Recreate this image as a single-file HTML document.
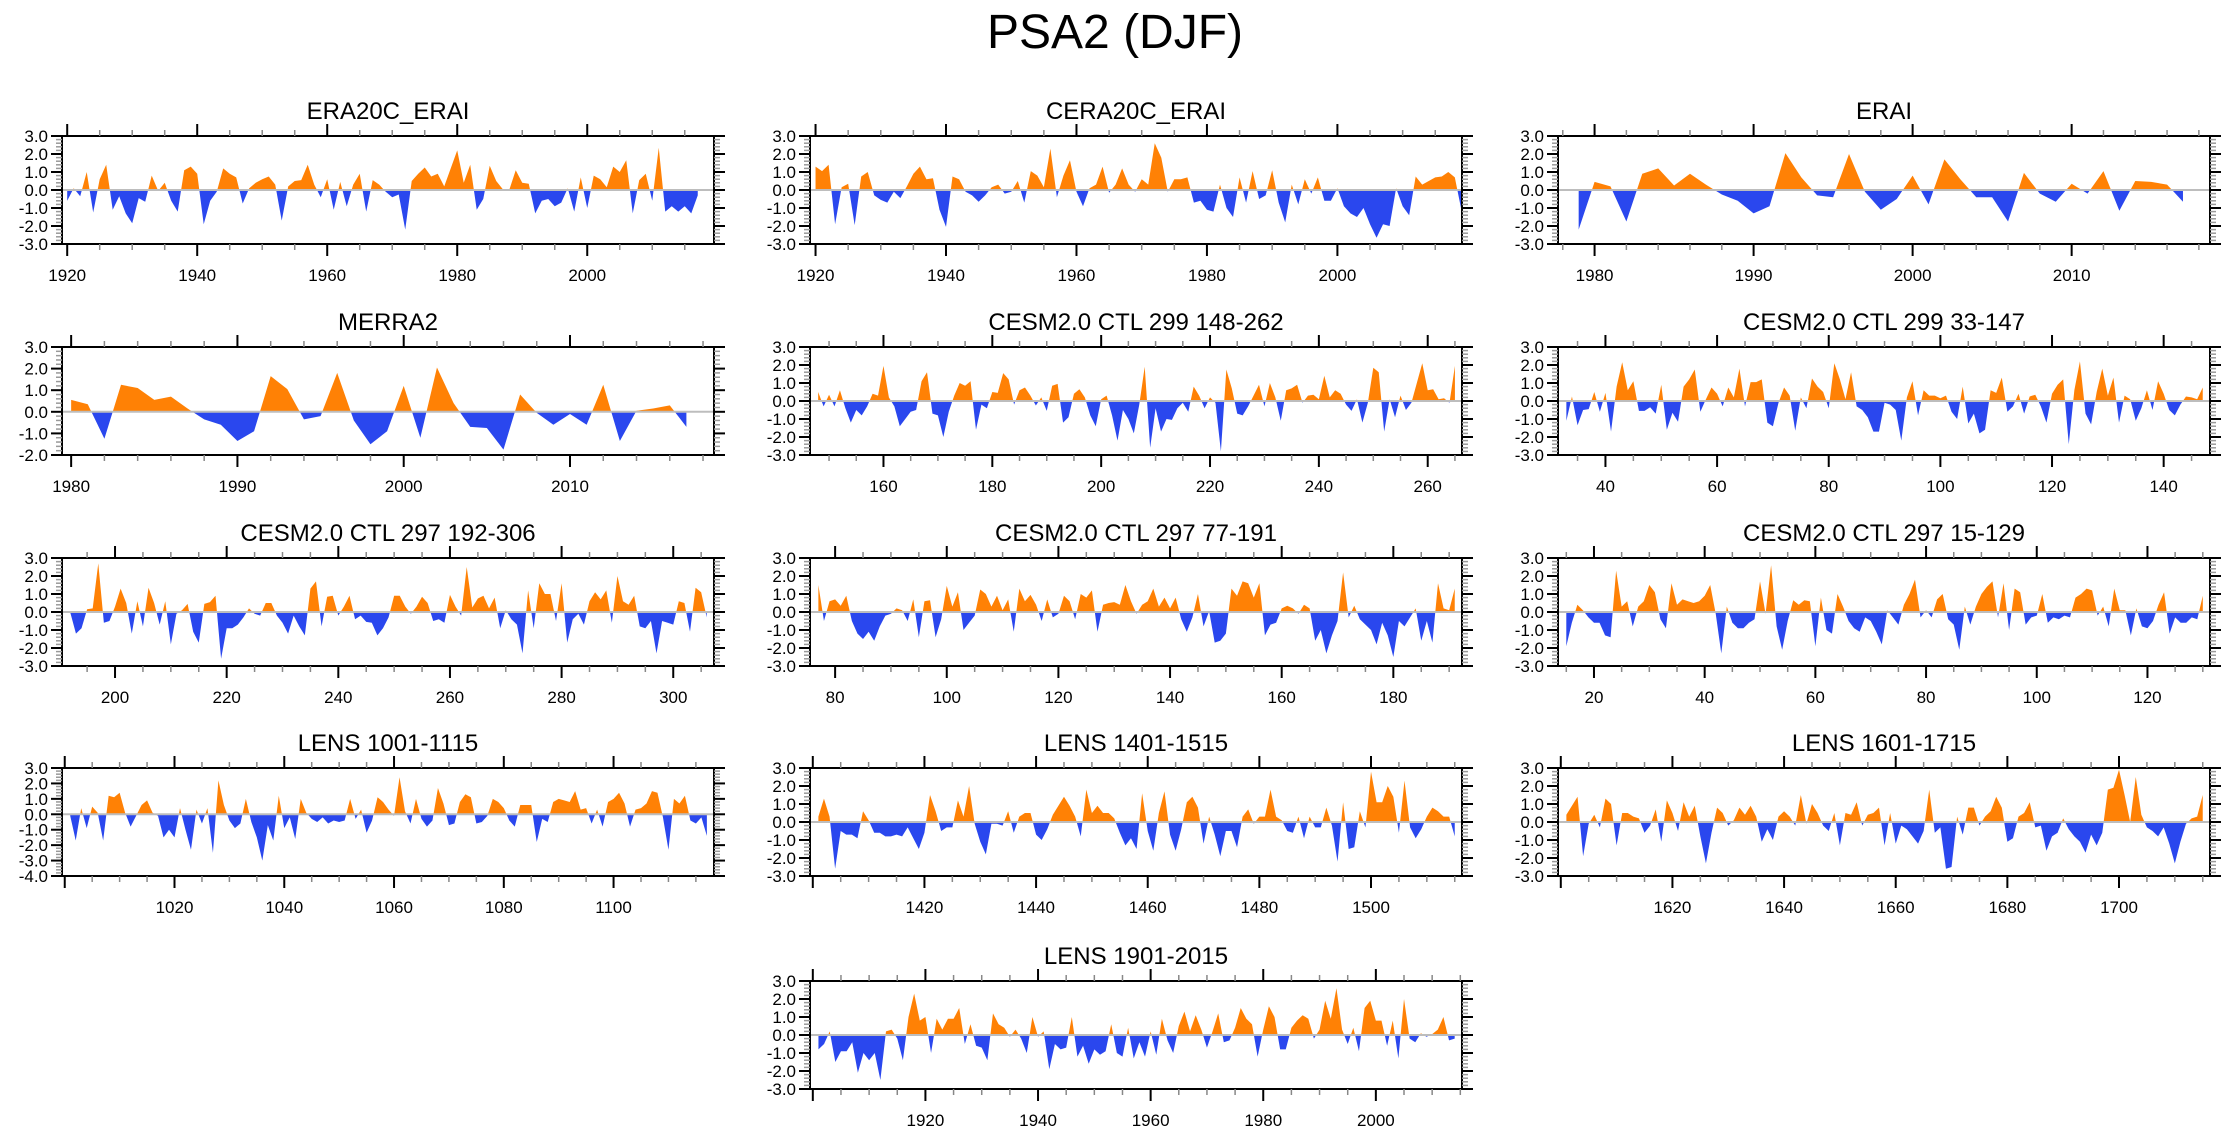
<!DOCTYPE html>
<html><head><meta charset="utf-8">
<style>
html,body{margin:0;padding:0;background:#fff;}
svg{display:block;font-family:"Liberation Sans",Arial,sans-serif;}
</style></head>
<body>
<svg id="chart" width="2230" height="1133" viewBox="0 0 2230 1133" xmlns="http://www.w3.org/2000/svg">
<text x="1115" y="48" font-size="48" text-anchor="middle">PSA2 (DJF)</text>
</svg>
<script>
const panelTitles = ["ERA20C_ERAI","CERA20C_ERAI","ERAI","MERRA2","CESM2.0 CTL 299 148-262","CESM2.0 CTL 299 33-147","CESM2.0 CTL 297 192-306","CESM2.0 CTL 297 77-191","CESM2.0 CTL 297 15-129","LENS 1001-1115","LENS 1401-1515","LENS 1601-1715","LENS 1901-2015"];
const era20c = [-0.6,0.1,-0.35,1.0,-1.25,0.6,1.4,-1.1,-0.35,-1.3,-1.85,-0.45,-0.65,0.8,-0.05,0.4,-0.6,-1.2,1.1,1.3,0.9,-1.9,-0.6,-0.1,1.2,0.9,0.7,-0.75,0.1,0.4,0.6,0.75,0.3,-1.7,0.2,0.5,0.55,1.4,0.3,-0.4,0.6,-1.1,0.45,-0.9,0.3,0.9,-1.2,0.55,0.3,-0.1,-0.4,-0.25,-2.2,0.5,0.9,1.25,0.75,0.9,0.2,1.2,2.2,0.4,1.4,-1.1,-0.5,1.35,0.5,0.05,0.0,1.1,0.4,0.35,-1.3,-0.6,-0.5,-0.9,-0.7,0.1,-1.2,0.7,-1.0,0.8,0.6,0.15,1.3,1.0,1.65,-1.3,0.55,0.9,-0.6,2.35,-1.2,-0.9,-1.2,-0.9,-1.3,-0.3];
const cera20c = [1.3,1.05,1.4,-1.9,0.15,0.35,-1.95,0.75,1.0,-0.3,-0.55,-0.7,-0.1,-0.45,0.2,0.9,1.3,0.6,0.65,-1.1,-2.05,0.75,0.6,-0.1,-0.3,-0.65,-0.3,0.15,0.3,-0.2,-0.1,0.5,-0.7,1.05,0.8,0.15,2.3,-0.4,0.8,1.65,-0.1,-0.9,0.1,0.3,1.3,-0.15,0.3,1.2,0.3,-0.1,0.6,0.3,2.6,1.8,-0.1,0.6,0.6,0.7,-0.7,-0.6,-1.1,-1.2,0.3,-1.0,-1.5,0.7,-0.7,1.05,-0.5,-0.3,1.1,-0.7,-1.8,0.3,-0.8,0.6,-0.2,0.7,-0.6,-0.6,0.1,-0.9,-1.3,-1.5,-1.0,-1.9,-2.65,-1.9,-2.0,0.1,-0.9,-1.4,0.75,0.3,0.5,0.7,0.75,1.0,0.7,-1.1];
const erai = [-2.2,0.45,0.2,-1.75,0.9,1.2,0.25,0.9,0.3,-0.25,-0.6,-1.3,-0.9,2.05,0.7,-0.3,-0.4,2.0,-0.1,-1.1,-0.5,0.8,-0.8,1.7,0.6,-0.4,-0.4,-1.75,0.95,-0.2,-0.65,0.35,-0.2,1.05,-1.15,0.5,0.45,0.3,-0.65];
const merra2 = [0.55,0.35,-1.25,1.25,1.1,0.55,0.7,0.15,-0.35,-0.6,-1.35,-0.9,1.65,1.05,-0.35,-0.2,1.8,-0.4,-1.5,-0.9,1.2,-1.2,2.05,0.4,-0.7,-0.75,-1.75,0.8,-0.05,-0.6,-0.1,-0.6,1.25,-1.35,0.05,0.15,0.3,-0.7];
const cesm299a = [0.5,-0.3,0.35,-0.3,0.6,-0.4,-1.2,-0.5,-0.8,-0.3,0.4,0.3,1.95,0.2,-0.3,-1.4,-1.0,-0.6,-0.5,1.1,1.6,-0.7,-0.8,-2.0,-0.6,0.3,1.0,0.85,1.1,-1.6,-0.2,-0.4,0.5,0.45,1.55,1.2,-0.2,0.6,0.75,0.3,-0.25,0.2,-0.55,0.85,0.95,-1.2,-0.9,0.4,0.65,0.2,-0.8,-1.4,0.1,0.3,-0.8,-2.2,-0.5,-1.0,-1.8,-0.2,1.9,-2.6,-0.4,-1.7,-1.0,-1.05,-0.4,-0.1,-0.6,0.8,0.3,-0.4,0.2,-0.1,-2.8,1.75,0.7,-0.7,-0.8,-0.3,0.3,0.9,-0.3,1.0,0.2,-1.1,0.6,0.7,0.9,-0.1,0.3,0.35,0.1,1.4,0.2,0.6,0.4,-0.2,-0.55,0.1,-1.2,-0.1,1.85,1.6,-1.7,0.1,-0.9,0.3,-0.5,-0.1,1.0,2.1,0.6,0.65,0.1,0.15,-0.1,1.95];
const cesm299b = [-1.1,0.25,-1.35,-0.5,-0.45,0.5,-0.6,0.45,-1.7,0.8,2.15,0.6,1.1,-0.55,-0.55,-0.35,-0.7,0.9,-1.6,-0.65,-1.15,0.8,1.2,1.75,-0.6,0.1,0.75,0.4,-0.3,0.75,0.2,1.8,-0.3,1.05,1.05,1.2,-1.2,-1.4,-0.1,0.75,0.3,-1.65,0.2,-0.4,1.25,0.8,0.5,-0.4,2.1,1.2,0.1,1.6,-0.3,-0.5,-0.9,-1.7,-1.7,-0.1,-0.2,-0.5,-2.2,0.2,1.1,-0.8,0.6,0.3,0.3,0.15,0.3,-0.6,-1.0,0.8,-1.25,-0.7,-1.8,-1.6,0.6,0.45,1.3,-0.6,-0.3,0.4,-0.7,0.25,0.35,-0.3,-1.2,0.4,0.9,1.2,-2.4,0.6,2.2,-0.7,-1.3,0.5,1.8,0.3,1.3,-1.2,0.3,0.1,-1.1,-0.4,0.6,-0.5,1.1,0.4,-0.5,-0.8,-0.2,0.25,0.2,0.1,0.75];
const cesm297a = [-0.05,-1.2,-0.9,0.15,0.2,2.7,-0.6,-0.5,0.3,1.3,0.5,-1.2,0.6,-0.8,1.35,0.5,-0.7,0.6,-1.8,-0.1,0.1,0.45,-1.1,-1.7,0.45,0.55,0.9,-2.6,-0.9,-0.9,-0.7,-0.3,0.2,-0.1,-0.2,0.5,0.5,-0.2,-0.6,-1.2,-0.2,-0.8,-1.3,1.3,1.7,-0.8,0.85,0.9,-0.2,0.3,0.9,-0.4,-0.2,-0.55,-0.6,-1.3,-0.9,-0.3,0.9,0.9,0.3,-0.1,0.3,0.85,0.5,-0.5,-0.4,-0.6,0.95,0.3,-0.2,2.5,0.25,0.75,0.9,0.2,0.8,-0.9,0.1,-0.4,-0.7,-2.3,1.2,-0.9,1.6,1.0,1.0,-0.5,1.6,-1.7,-0.4,-0.1,-0.7,0.6,1.1,0.7,1.2,-0.6,2.0,0.6,0.4,0.9,-0.8,-0.9,-0.5,-2.3,-0.5,-0.6,-0.7,0.6,0.5,-1.1,1.35,1.1,-0.3];
const cesm297b = [1.5,-0.5,0.6,0.7,0.35,0.9,-0.5,-1.2,-1.5,-1.1,-1.6,-0.8,-0.2,-0.1,0.2,0.1,-0.5,0.7,-1.4,0.6,0.65,-1.4,-0.4,1.45,0.3,1.1,-1.0,-0.6,-0.2,1.25,1.0,0.3,0.9,0.1,0.7,-1.1,1.3,0.6,0.95,0.4,-0.5,0.7,-0.3,-0.1,0.9,0.6,-0.4,1.0,0.8,1.2,-1.1,0.4,0.5,0.55,0.4,1.5,0.6,-0.1,0.4,0.6,1.3,0.3,0.8,0.2,0.8,-0.4,-1.1,-0.3,1.0,-0.8,0.05,-1.7,-1.6,-1.2,1.3,0.9,1.7,1.6,0.8,1.6,-1.3,-0.7,-0.6,0.2,0.35,0.2,-0.1,0.4,0.2,-1.6,-1.0,-2.3,-1.3,-0.5,2.2,-0.3,0.35,-0.4,-0.7,-1.0,-1.8,-0.6,-1.3,-2.5,-0.5,-0.8,-0.3,0.2,-1.6,-0.5,-1.7,1.6,0.2,0.1,1.3];
const cesm297c = [-1.9,-0.6,0.4,0.1,-0.3,-0.6,-0.6,-1.3,-1.4,2.3,0.3,0.6,-0.8,0.3,0.6,1.5,1.1,-0.4,-0.9,1.6,0.4,0.7,0.6,0.5,0.6,0.9,1.5,-0.1,-2.3,0.3,-0.6,-0.9,-0.9,-0.6,-0.4,1.7,-0.1,2.6,-0.8,-2.1,-0.5,0.65,0.4,0.65,0.6,-1.9,0.8,-1.0,-1.2,1.0,0.3,-0.5,-0.9,-1.1,-0.3,-0.5,-1.1,-1.8,0.1,-0.3,-0.7,0.4,1.0,1.8,-0.3,0.1,-0.3,0.7,1.0,-0.4,-0.7,-2.1,0.3,-0.7,0.3,1.0,1.4,1.7,-0.3,1.6,-1.0,1.3,1.1,-0.7,-0.3,-0.2,1.0,-0.6,-0.3,-0.4,-0.2,-0.3,0.8,1.0,1.3,1.2,-0.2,0.3,-0.8,1.3,0.1,0.1,-1.3,0.2,-0.8,-0.9,-0.5,0.4,1.1,-1.2,-0.3,-0.6,-0.6,-0.3,-0.4,0.9];
const lens1001 = [-0.1,-1.7,0.4,-0.9,0.5,0.1,-1.7,1.2,1.1,1.4,0.1,-0.8,-0.1,0.6,0.9,0.1,-0.1,-1.5,-1.0,-1.5,0.4,-1.0,-2.3,0.3,-0.6,0.4,-2.5,2.2,0.6,-0.4,-0.9,-0.6,1.0,-0.5,-1.5,-3.0,-0.7,-1.7,1.2,-0.9,-0.2,-1.6,1.0,0.1,-0.3,-0.5,-0.2,-0.6,-0.4,-0.5,-0.4,1.0,-0.3,0.3,-1.2,-0.4,1.1,0.8,0.3,-0.1,2.4,0.2,-0.6,1.0,-0.3,-0.8,-0.4,1.7,0.7,-0.7,-0.6,0.8,1.3,1.1,-0.6,-0.5,-0.1,1.0,0.8,0.4,-0.4,-0.8,0.6,0.6,0.6,-1.8,-0.3,-0.5,0.8,1.0,0.9,0.8,1.5,0.3,0.4,-0.6,0.3,-0.8,0.8,1.0,1.4,0.7,-0.8,0.3,0.4,0.7,1.5,1.4,-0.2,-2.3,1.0,0.7,1.2,-0.4,-0.6,-0.2,-1.4];
const lens1401 = [0.3,1.3,0.3,-2.6,-0.5,-0.7,-0.7,-0.9,0.6,0.1,-0.6,-0.6,-0.8,-0.8,-0.7,-0.8,-0.3,-0.9,-1.5,-0.6,1.5,0.6,-0.5,-0.3,-0.3,1.2,0.3,2.0,-0.1,-1.1,-1.8,-0.1,-0.1,-0.2,0.6,-0.6,0.3,0.5,0.5,-0.7,-1.0,-0.4,0.4,0.9,1.4,0.9,0.3,-0.8,1.8,0.5,0.9,0.5,0.5,0.2,-0.6,-1.3,-0.9,-1.5,1.6,-0.5,-1.6,0.5,1.7,-0.7,-1.6,-0.4,1.1,1.4,0.8,-1.2,0.3,-0.7,-1.9,-0.5,-0.5,-1.4,0.3,0.7,-0.1,0.3,0.3,1.8,0.3,0.1,-0.5,-0.6,0.3,-0.9,0.3,-0.3,-0.3,0.8,-0.2,-2.2,1.1,-1.5,-1.4,0.6,-0.3,2.8,1.1,1.1,2.0,1.4,-0.6,2.3,-0.3,-0.9,-0.4,0.3,0.8,0.6,0.3,0.3,-0.8];
const lens1601 = [0.4,0.9,1.4,-1.9,-0.1,0.4,-0.3,1.3,1.0,-1.3,0.5,0.5,0.3,0.2,-0.6,-0.2,0.7,-1.1,1.2,0.5,-0.5,1.1,0.3,0.9,-0.8,-2.3,-0.6,0.8,0.5,-0.2,0.1,0.8,0.4,0.9,0.3,-1.1,-0.4,-1.0,0.3,0.6,0.3,-0.2,1.5,-0.1,1.0,0.5,-0.2,-0.5,0.5,-1.3,0.5,0.4,1.1,-0.2,0.4,0.5,0.8,-1.3,0.5,-1.2,-0.2,-0.4,-0.8,-1.2,-0.5,1.8,-0.6,-0.3,-2.6,-2.5,0.3,-0.7,0.8,0.8,-0.2,0.3,0.6,1.4,0.8,-1.1,-0.9,0.3,0.5,1.1,-0.3,-0.2,-1.6,-0.8,-0.6,0.2,-0.4,-0.8,-1.1,-1.7,-0.7,-1.3,-0.6,1.8,1.9,2.9,1.5,0.0,2.5,0.4,-0.3,-0.5,-0.8,-0.3,-1.2,-2.3,-1.1,-0.1,0.2,0.3,1.5];
const lens1901 = [-0.8,-0.5,0.2,-1.5,-0.9,-0.9,-0.4,-2.1,-1.0,-1.4,-1.0,-2.5,0.2,0.3,-0.2,-1.4,1.0,2.3,0.8,1.0,-1.0,0.9,0.3,0.9,0.9,1.5,-0.5,0.6,-0.6,-0.7,-1.4,1.2,0.6,0.4,-0.1,0.3,-0.2,-1.0,1.0,-0.1,0.2,-1.9,-0.5,-0.8,-0.7,1.0,-1.2,-0.6,-1.6,-0.8,-1.1,-0.9,0.6,-1.0,-1.2,0.4,-1.3,-0.4,-1.2,0.2,-1.1,0.9,-0.3,-1.0,0.5,1.3,0.2,1.1,0.3,-0.7,0.2,1.2,-0.4,-0.3,0.4,1.5,0.9,0.6,-1.2,0.3,1.6,1.0,-0.8,-0.8,0.4,0.8,1.1,0.9,-0.2,0.3,1.9,0.9,2.6,0.3,-0.5,0.4,-0.9,1.5,1.9,0.8,0.8,-0.6,0.8,-1.3,2.0,-0.2,-0.4,0.1,-0.1,0.05,0.3,1.0,-0.3,-0.2];
const xTickLabels = [[1920,1940,1960,1980,2000],[1920,1940,1960,1980,2000],[1980,1990,2000,2010],[1980,1990,2000,2010],[160,180,200,220,240,260],[40,60,80,100,120,140],[200,220,240,260,280,300],[80,100,120,140,160,180],[20,40,60,80,100,120],[1020,1040,1060,1080,1100],[1420,1440,1460,1480,1500],[1620,1640,1660,1680,1700],[1920,1940,1960,1980,2000]];

const NS = "http://www.w3.org/2000/svg";
const svg = document.getElementById("chart");
const COLS = [62, 810, 1558], ROWS = [136, 347, 558, 768, 981], PW = 652, PH = 108;
const POS = "#ff8105", NEG = "#2a47ee";

function mk(tag, attrs, parent) {
  const e = document.createElementNS(NS, tag);
  for (const k in attrs) e.setAttribute(k, attrs[k]);
  (parent || svg).appendChild(e);
  return e;
}

const cfg = [
  {data: era20c, start: 1920, xmin: 1919.2, xmax: 2019.5, ymin: -3, ymax: 3, major: 20, minor: 5, c: 0, r: 0},
  {data: cera20c, start: 1920, xmin: 1919.15, xmax: 2019.1, ymin: -3, ymax: 3, major: 20, minor: 5, c: 1, r: 0},
  {data: erai, start: 1979, xmin: 1977.7, xmax: 2018.7, ymin: -3, ymax: 3, major: 10, minor: 2, c: 2, r: 0},
  {data: merra2, start: 1980, xmin: 1979.45, xmax: 2018.66, ymin: -2, ymax: 3, major: 10, minor: 2, c: 0, r: 1},
  {data: cesm299a, start: 148, major: 20, minor: 5, ymin: -3, ymax: 3, c: 1, r: 1},
  {data: cesm299b, start: 33, major: 20, minor: 5, ymin: -3, ymax: 3, c: 2, r: 1},
  {data: cesm297a, start: 192, major: 20, minor: 5, ymin: -3, ymax: 3, c: 0, r: 2},
  {data: cesm297b, start: 77, major: 20, minor: 5, ymin: -3, ymax: 3, c: 1, r: 2},
  {data: cesm297c, start: 15, major: 20, minor: 5, ymin: -3, ymax: 3, c: 2, r: 2},
  {data: lens1001, start: 1001, major: 20, minor: 5, ymin: -4, ymax: 3, c: 0, r: 3},
  {data: lens1401, start: 1401, major: 20, minor: 5, ymin: -3, ymax: 3, c: 1, r: 3},
  {data: lens1601, start: 1601, major: 20, minor: 5, ymin: -3, ymax: 3, c: 2, r: 3},
  {data: lens1901, start: 1901, major: 20, minor: 5, ymin: -3, ymax: 3, c: 1, r: 4}
];

cfg.forEach((p, idx) => {
  const L = COLS[p.c], T = ROWS[p.r], R = L + PW, B = T + PH;
  const n = p.data.length;
  const xmin = p.xmin !== undefined ? p.xmin : p.start - 1.5;
  const xmax = p.xmax !== undefined ? p.xmax : p.start + n + 0.3;
  const xs = v => L + (v - xmin) / (xmax - xmin) * PW;
  const ys = v => T + (p.ymax - v) / (p.ymax - p.ymin) * PH;
  const g = mk("g", {});
  
  

  const title = mk("text", {x: L + PW / 2, y: T - 17, "font-size": 24, "text-anchor": "middle"}, g);
  title.textContent = panelTitles[idx];
  
  

  const y0 = ys(0);
  const defs = mk("defs", {}, g);
  const cp = mk("clipPath", {id: "pos" + idx}, defs);
  mk("rect", {x: L, y: T, width: PW, height: y0 - T}, cp);
  const cn = mk("clipPath", {id: "neg" + idx}, defs);
  mk("rect", {x: L, y: y0, width: PW, height: B - y0}, cn);

  let d = "M" + xs(p.start).toFixed(2) + "," + y0.toFixed(2);
  p.data.forEach((v, i) => { d += " L" + xs(p.start + i).toFixed(2) + "," + ys(v).toFixed(2); });
  d += " L" + xs(p.start + n - 1).toFixed(2) + "," + y0.toFixed(2) + " Z";
  const ap = mk("path", {d: d, fill: POS, "clip-path": "url(#pos" + idx + ")"}, g);
  
  
  const an = mk("path", {d: d, fill: NEG, "clip-path": "url(#neg" + idx + ")"}, g);
  
  

  const zl = mk("line", {x1: L, x2: R, y1: y0, y2: y0, stroke: "#bdbdbd", "stroke-width": 2}, g);
  
  

  const fr = mk("rect", {x: L, y: T, width: PW, height: PH, fill: "none", stroke: "#000", "stroke-width": 2}, g);
  
  

  // y ticks
  for (let k = Math.round(p.ymin * 5); k <= Math.round(p.ymax * 5); k++) {
    const v = k / 5, y = ys(v), maj = (k % 5 === 0);
    const len = maj ? 11 : 6, col = maj ? "#000" : "#999";
    mk("line", {x1: L - len, x2: L, y1: y, y2: y, stroke: col, "stroke-width": maj ? 2 : 1.5}, g);
    mk("line", {x1: R, x2: R + len, y1: y, y2: y, stroke: col, "stroke-width": maj ? 2 : 1.5}, g);
    if (maj) {
      const t = mk("text", {x: L - 14, y: y + 6, "font-size": 17, "text-anchor": "end"}, g);
      t.textContent = v.toFixed(1);
      
      
    }
  }
  // x ticks
  const first = Math.ceil(xmin / p.minor) * p.minor;
  for (let v = first; v <= xmax; v += p.minor) {
    const x = xs(v), maj = (v % p.major === 0);
    const len = maj ? 12 : 6, col = maj ? "#000" : "#888";
    mk("line", {x1: x, x2: x, y1: B, y2: B + len, stroke: col, "stroke-width": maj ? 2 : 1.5}, g);
    mk("line", {x1: x, x2: x, y1: T - len, y2: T, stroke: col, "stroke-width": maj ? 2 : 1.5}, g);
  }
  xTickLabels[idx].forEach(v => {
    const t = mk("text", {x: xs(v), y: B + 37, "font-size": 17, "text-anchor": "middle"}, g);
    t.textContent = String(v);
    
    
  });
});
</script>
</body></html>
